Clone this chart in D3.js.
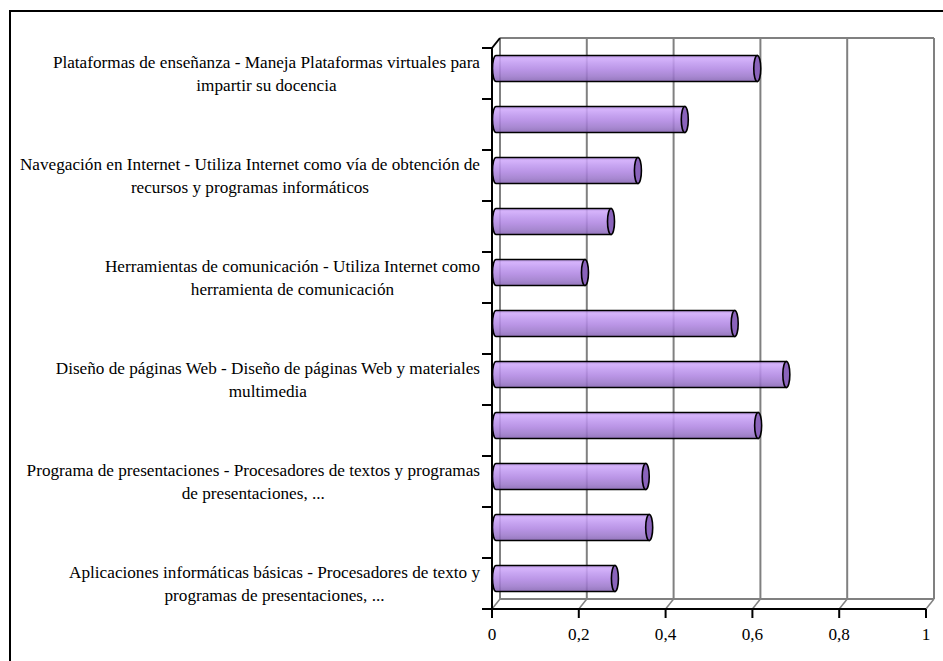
<!DOCTYPE html>
<html>
<head>
<meta charset="utf-8">
<script src="https://cdn.jsdelivr.net/npm/d3@7/dist/d3.min.js"></script>
<style>
  html, body { margin: 0; padding: 0; background: #fff; }
  svg { display: block; }
  text { font-family: "Liberation Serif", "Times New Roman", serif; fill: #000; }
</style>
</head>
<body>
<svg id="chart" width="943" height="661"></svg>
<script>
// ---- data (top to bottom) ----
const categories = [
  "Plataformas de enseñanza - Maneja Plataformas virtuales para\nimpartir su docencia",
  "",
  "Navegación en Internet - Utiliza Internet como vía de obtención de\nrecursos y programas informáticos",
  "",
  "Herramientas de comunicación - Utiliza Internet como\nherramienta de comunicación",
  "",
  "Diseño de páginas Web - Diseño de páginas Web y materiales\nmultimedia",
  "",
  "Programa de presentaciones - Procesadores de textos y programas\nde presentaciones, ...",
  "",
  "Aplicaciones informáticas básicas - Procesadores de texto y\nprogramas de presentaciones, ..."
];
const values = [0.602, 0.435, 0.327, 0.265, 0.205, 0.55, 0.669, 0.604, 0.345, 0.353, 0.274];
const xTicks = [0, 0.2, 0.4, 0.6, 0.8, 1];
const xTickLabels = ["0", "0,2", "0,4", "0,6", "0,8", "1"];

// ---- layout ----
const svg = d3.select("#chart");
const X0 = 492, X1 = 926, YT = 48, YB = 609;
const DX = 8, DY = -10;          // 3D depth offset
const x = d3.scaleLinear().domain([0, 1]).range([X0, X1]);
const y = d3.scaleBand().domain(d3.range(categories.length)).range([YT, YB]);
const gridColor = "#808080";
const FS = 17.2;

// frame
svg.append("rect").attr("x", 10).attr("y", 11).attr("width", 960).attr("height", 700)
  .attr("fill", "none").attr("stroke", "#000").attr("stroke-width", 2);

// gradient
const defs = svg.append("defs");
const grad = defs.append("linearGradient").attr("id", "cyl").attr("x1", 0).attr("y1", 0).attr("x2", 0).attr("y2", 1);
[[0, "#b08ade"], [0.12, "#cfa8fa"], [0.3, "#c099f0"], [0.55, "#b086e2"], [0.8, "#9c78cb"], [1, "#8664b3"]]
  .forEach(([o, c]) => grad.append("stop").attr("offset", o).attr("stop-color", c));

// back wall gridlines
const back = svg.append("g");
xTicks.forEach(t => {
  back.append("line").attr("x1", x(t) + DX).attr("x2", x(t) + DX)
    .attr("y1", YT + DY).attr("y2", YB + DY)
    .attr("stroke", gridColor).attr("stroke-width", 2);
  back.append("line").attr("x1", x(t)).attr("x2", x(t) + DX)
    .attr("y1", YB).attr("y2", YB + DY)
    .attr("stroke", gridColor).attr("stroke-width", 1.5);
});
back.append("line").attr("x1", x(0) + DX).attr("x2", x(1) + DX)
  .attr("y1", YT + DY).attr("y2", YT + DY).attr("stroke", gridColor).attr("stroke-width", 2);
back.append("line").attr("x1", x(0) + DX).attr("x2", x(1) + DX)
  .attr("y1", YB + DY).attr("y2", YB + DY).attr("stroke", gridColor).attr("stroke-width", 2);

// bars (cylinders at mid depth)
const bh = 26, rx = 3.5;
const bars = svg.append("g").selectAll("g").data(values).join("g");
bars.each(function (v, i) {
  const g = d3.select(this);
  const cy = y(i) + y.bandwidth() / 2 + DY / 2;
  const xa = x(0) + DX / 2, xb = x(v) + DX / 2;
  const top = cy - bh / 2, bot = cy + bh / 2;
  g.append("path")
    .attr("d", `M${xa},${top} L${xb},${top} L${xb},${bot} L${xa},${bot} A${rx},${bh / 2} 0 0 1 ${xa},${top} Z`)
    .attr("fill", "url(#cyl)").attr("fill-opacity", 0.88)
    .attr("stroke", "#000").attr("stroke-width", 1.6);
  g.append("ellipse").attr("cx", xb).attr("cy", cy).attr("rx", rx).attr("ry", bh / 2)
    .attr("fill", "#8a63bb").attr("stroke", "#000").attr("stroke-width", 1.6);
});

// axes
const ax = svg.append("g").attr("stroke", "#000").attr("stroke-width", 2);
ax.append("line").attr("x1", X0).attr("x2", X0).attr("y1", YT).attr("y2", YB + 9);
ax.append("line").attr("x1", X0 - 10).attr("x2", X1).attr("y1", YB).attr("y2", YB);
ax.append("line").attr("x1", X0).attr("x2", X0 + DX).attr("y1", YT).attr("y2", YT + DY);
d3.range(categories.length + 1).forEach(k => {
  const yy = YT + k * y.step();
  ax.append("line").attr("x1", X0 - 10).attr("x2", X0).attr("y1", yy).attr("y2", yy);
});
xTicks.forEach(t => {
  ax.append("line").attr("x1", x(t)).attr("x2", x(t)).attr("y1", YB).attr("y2", YB + 9);
});

// x tick labels
svg.append("g").selectAll("text").data(xTicks).join("text")
  .attr("x", d => x(d)).attr("y", YB + 25).attr("text-anchor", "middle")
  .attr("dominant-baseline", "central").attr("font-size", FS)
  .text((d, i) => xTickLabels[i]);

// category labels
const lh = 23, labelRight = 480;
categories.forEach((c, i) => {
  if (!c) return;
  const lines = c.split("\n");
  const cy = y(i) + y.bandwidth() / 2;
  const t = svg.append("text").attr("font-size", FS).attr("text-anchor", "middle")
    .attr("dominant-baseline", "central");
  const spans = lines.map((l, k) => t.append("tspan").attr("y", cy + (k - (lines.length - 1) / 2) * lh).text(l));
  const w = d3.max(spans, s => s.node().getComputedTextLength());
  spans.forEach(s => s.attr("x", labelRight - w / 2));
});
</script>
</body>
</html>
